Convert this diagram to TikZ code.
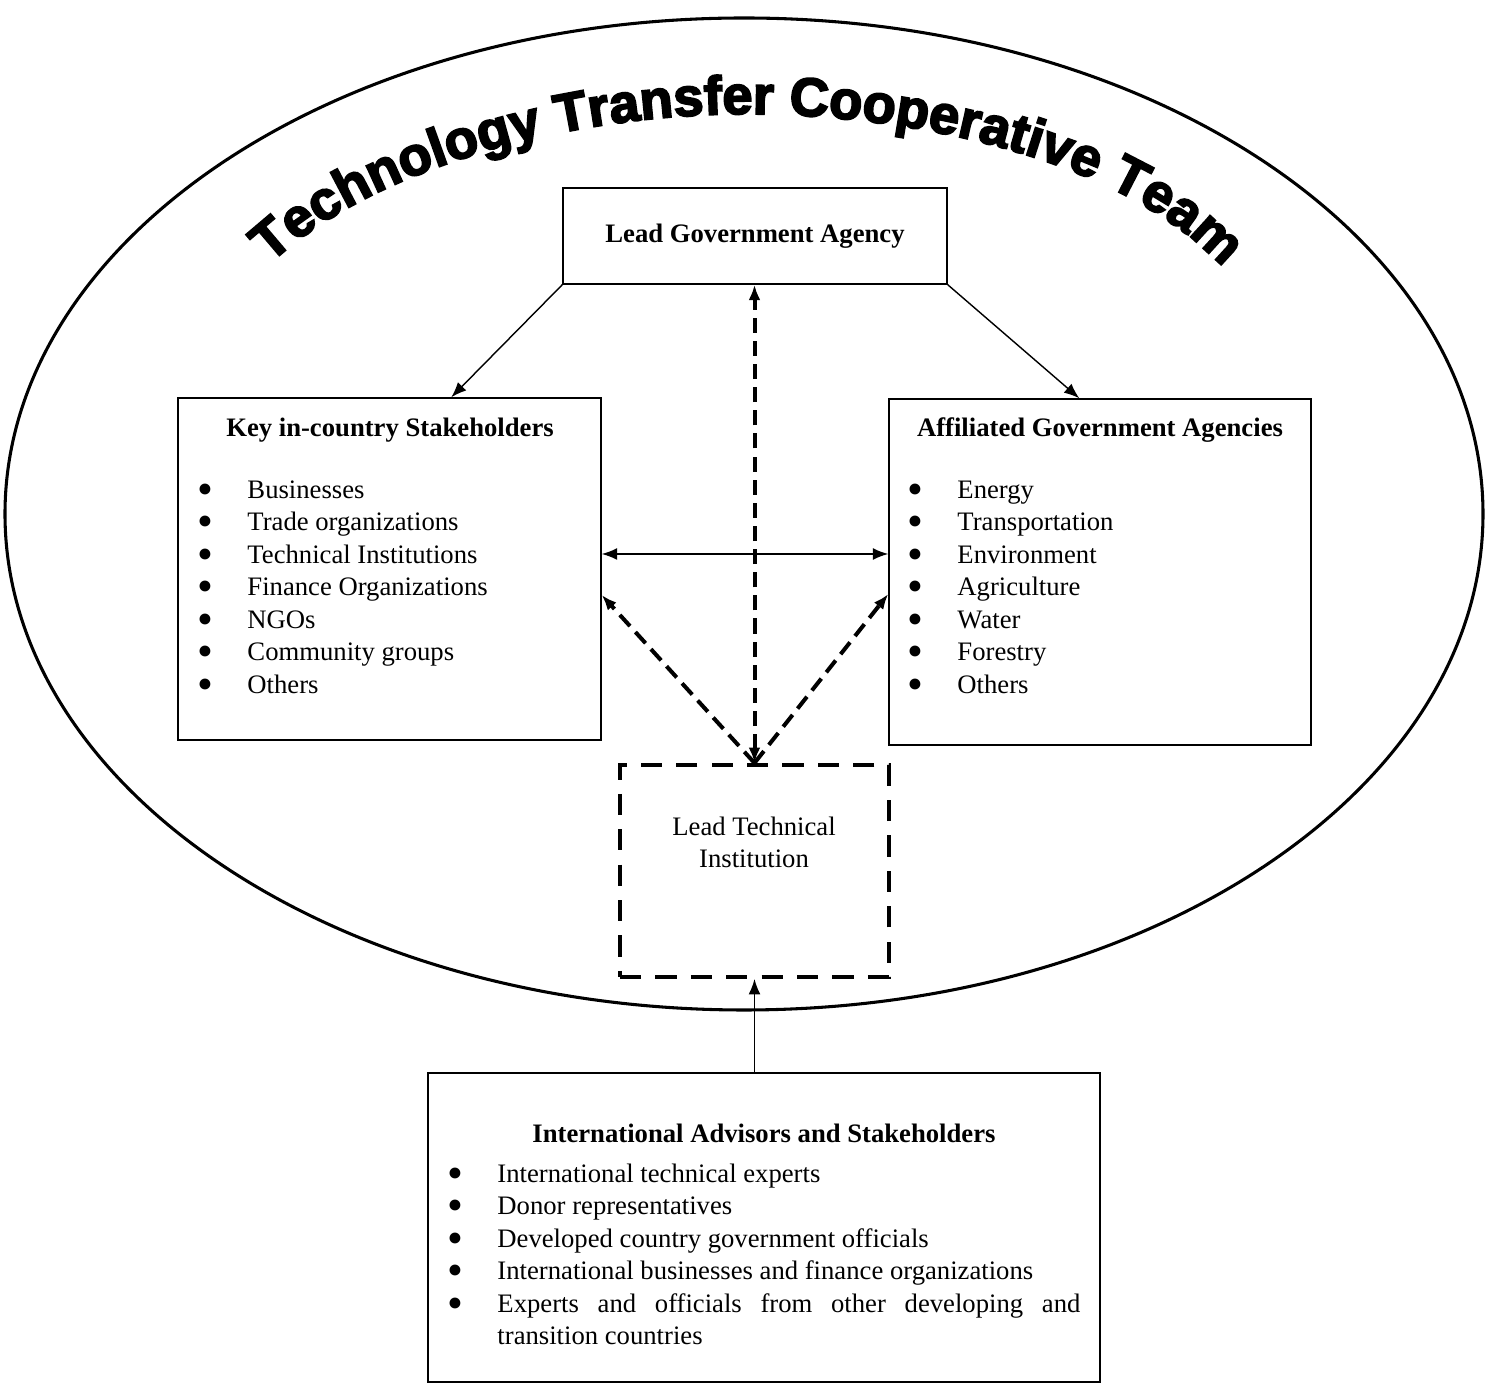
\documentclass[tikz,border=0pt]{standalone}
\usepackage{fontspec}
\setmainfont{Liberation Serif}
\newfontfamily\titlefont[BoldFeatures={FakeBold=3.5}]{Liberation Sans}
\usetikzlibrary{arrows.meta, calc, positioning, decorations.text}
\def\u{0.4237pt}
\newcommand{\blt}{\scalebox{1.7}{\textbullet}}

\begin{document}
\begin{tikzpicture}[x=0.4237pt, y=0.4237pt, >={Latex[length=6.5pt,width=5pt]},
    font=\fontsize{11.3}{13.77}\selectfont,
    box/.style={draw, line width=0.6pt, inner sep=0pt},
    dashbox/.style={draw, line width=1.7pt, dash pattern=on 9pt off 6pt, inner sep=0pt},
    link/.style={line width=0.6pt},
    dashlink/.style={line width=1.7pt, dash pattern=on 6.4pt off 3.4pt}]
        \useasboundingbox (0,0) rectangle (1487,1384);
        
        % Ellisse esterna
        \draw[line width=1.3pt] (744,870) ellipse [x radius=739, y radius=496];
        
        % Titolo ad arco
        \path[decorate, decoration={text along path, text align=center,
            text={|\titlefont\bfseries\fontsize{23}{24}\selectfont|Technology Transfer Cooperative Team}}]
        (238,1084) .. controls (322,1200) and (545,1270) .. (745,1270)
        .. controls (945,1270) and (1172,1210) .. (1252,1078);
        
        % Riquadro superiore
        \node[box, minimum width=384*\u, minimum height=96*\u] (lead) at (755,1148)
        {\textbf{Lead Government Agency}};
        
        % Riquadro di sinistra
        \node[box, minimum width=423*\u, minimum height=342*\u] (key) at (389.5,815) {};
        \node[anchor=mid] (keyhead) at (390,953) {\textbf{Key in-country Stakeholders}};
        \foreach \t [count=\i] in {Businesses, Trade organizations, Technical Institutions,
            Finance Organizations, NGOs, Community groups, Others} {
            \node[anchor=mid] (keyb\i) at (205,917.5-32.5*\i) {\blt};
            \node[anchor=mid west, inner sep=0pt] (keyi\i) at (247,923.5-32.5*\i) {\t};
        }
        
        % Riquadro di destra
        \node[box, minimum width=422*\u, minimum height=346*\u] (aff) at (1100,812) {};
        \node[anchor=mid] (affhead) at (1100,953) {\textbf{Affiliated Government Agencies}};
        \foreach \t [count=\i] in {Energy, Transportation, Environment,
            Agriculture, Water, Forestry, Others} {
            \node[anchor=mid] (affb\i) at (915,917.5-32.5*\i) {\blt};
            \node[anchor=mid west, inner sep=0pt] (affi\i) at (957,923.5-32.5*\i) {\t};
        }
        
        % Riquadro tratteggiato centrale
        \node[dashbox, minimum width=269*\u, minimum height=212*\u] (tech) at (754.5,513) {};
        \node[align=center] (techtxt) at (754,541.5) {Lead Technical\\Institution};
        
        % Riquadro inferiore
        \node[box, minimum width=672*\u, minimum height=309*\u] (intl) at (764,156.5) {};
        \node[anchor=mid] (intlhead) at (764,247) {\textbf{International Advisors and Stakeholders}};
        \foreach \t [count=\i] in {International technical experts, Donor representatives,
            Developed country government officials,
            International businesses and finance organizations,
            \makebox[247pt][s]{Experts and officials from other developing and}} {
            \node[anchor=mid] (intlb\i) at (455,233.5-32.5*\i) {\blt};
            \node[anchor=mid west, inner sep=0pt] (intli\i) at (497,239.5-32.5*\i) {\t};
        }
        \node[anchor=mid west, inner sep=0pt] (intli6) at (497,44.5) {transition countries};
        
        % Frecce continue
        \draw[link,->] (lead.south west) -- ($(key.north west)+(274,0)$);
        \draw[link,->] (lead.south east) -- ($(aff.north west)+(191,0)$);
        \draw[link,<->] ($(key.east)+(0,15)$) -- ($(aff.west)+(0,18)$);
        \draw[link,->] (intl.north -| tech.south) -- (tech.south);
        
        % Frecce tratteggiate
        \draw[dashlink,<->] (tech.north) -- (lead.south -| tech.north);
        \draw[dashlink,->] (tech.north) -- ($(key.east)+(0,-26)$);
        \draw[dashlink,->] (tech.north) -- ($(aff.west)+(0,-22)$);
        
    \end{tikzpicture}
\end{document}
